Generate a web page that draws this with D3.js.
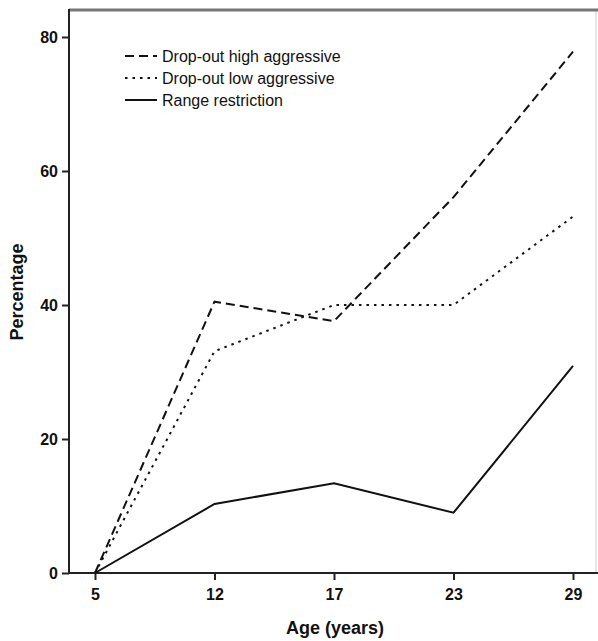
<!DOCTYPE html>
<html>
<head>
	<meta charset="utf-8">
	<title>Drop-out and range restriction by age</title>
	<script src="https://d3js.org/d3.v7.min.js"></script>
	<style>
		body { margin: 0; background: #fff; }
		svg { display: block; }
		text { font-family: "Liberation Sans", Arial, sans-serif; }
	</style>
</head>
<body>
	<div class="chart"></div>

	<script type="text/javascript">

		// data
		const ages = ['5', '12', '17', '23', '29']
		const highAggressive = [0, 40.5, 37.6, 56.1, 77.8]
		const lowAggressive = [0, 33.1, 40, 40, 53.2]
		const rangeRestriction = [0, 10.3, 13.4, 9.0, 30.9]
		const yTicks = [0, 20, 40, 60, 80]

		const seriesNames = ['Drop-out high aggressive', 'Drop-out low aggressive', 'Range restriction']
		const seriesValues = [highAggressive, lowAggressive, rangeRestriction]
		const dashes = ['9,5', '2.5,5', null]

		var width = 598
		var height = 641
		// plot frame (note: "top" is reserved on window, so use other names)
		var plotLeft = 69, plotRight = 596, plotTop = 10, plotBottom = 573

		var svg = d3
			.select('.chart')
			.append('svg')
			.attr('width', width)
			.attr('height', height)

		// scales
		const x = d3.scalePoint()
			.domain(ages)
			.range([95, 573])

		const y = d3.scaleLinear()
			.domain([0, 80])
			.range([plotBottom, 37])

		// axes
		svg.append('g')
			.attr('transform', `translate(${plotLeft},0)`)
			.call(d3.axisLeft(y).tickValues(yTicks).tickSize(7).tickPadding(4))

		svg.append('g')
			.attr('transform', `translate(0,${plotBottom})`)
			.call(d3.axisBottom(x).tickSize(7).tickPadding(9))

		svg.selectAll('.domain').remove()

		svg.selectAll('.tick line').attr('stroke', '#222').attr('stroke-width', 2)
		svg.selectAll('.tick text')
			.attr('fill', '#111')
			.style('font-size', '16px')
			.style('font-weight', 'bold')

		// frame
		const frame = svg.append('g').attr('fill', 'none')
		frame.append('path')
			.attr('d', `M${plotRight},${plotTop}V${plotBottom}`)
			.attr('stroke', '#ccc').attr('stroke-width', 1)
		frame.append('path')
			.attr('d', `M${plotLeft},${plotTop}H${width}`)
			.attr('stroke', '#777').attr('stroke-width', 3)
		frame.append('path')
			.attr('d', `M${plotLeft},${plotTop - 1}V${plotBottom}H${width}`)
			.attr('stroke', '#222').attr('stroke-width', 2)

		// axis titles
		svg.append('text')
			.attr('x', 335)
			.attr('y', 634)
			.attr('text-anchor', 'middle')
			.style('font-size', '18px')
			.style('font-weight', 'bold')
			.attr('fill', '#111')
			.text('Age (years)')

		svg.append('text')
			.attr('transform', 'translate(23,292) rotate(-90)')
			.attr('text-anchor', 'middle')
			.style('font-size', '18px')
			.style('font-weight', 'bold')
			.attr('fill', '#111')
			.text('Percentage')

		// lines
		const line = d3.line()
			.x((d, i) => x(ages[i]))
			.y((d) => y(d))

		svg.append('g')
			.selectAll('path')
			.data(seriesValues)
			.join('path')
			.attr('d', line)
			.attr('fill', 'none')
			.attr('stroke', '#111')
			.attr('stroke-width', 2)
			.attr('stroke-dasharray', (d, i) => dashes[i])

		// legend
		const legend = svg.append('g')
			.selectAll('g')
			.data(seriesNames)
			.join('g')
			.attr('transform', (d, i) => `translate(125,${56 + i * 22})`)

		legend.append('line')
			.attr('x1', 0).attr('x2', 32)
			.attr('stroke', '#111')
			.attr('stroke-width', 2)
			.attr('stroke-dasharray', (d, i) => dashes[i])

		legend.append('text')
			.attr('x', 37)
			.attr('dy', '0.35em')
			.style('font-size', '16px')
			.attr('fill', '#111')
			.text((d) => d)

	</script>
</body>
</html>
